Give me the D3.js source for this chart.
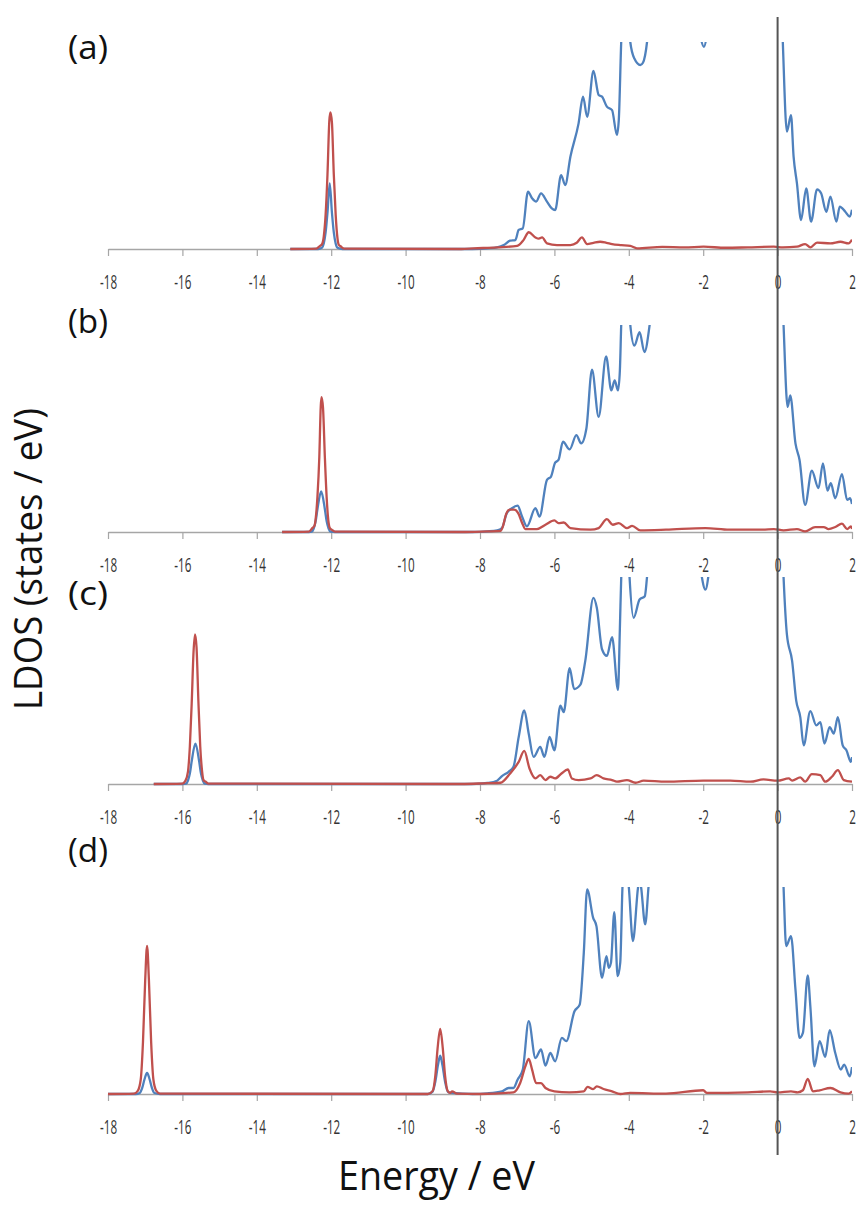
<!DOCTYPE html>
<html>
<head>
<meta charset="utf-8">
<script src="https://cdn.jsdelivr.net/npm/d3@7/dist/d3.min.js"></script>
<style>
  body { margin: 0; background: #fff; }
  svg { display: block; font-family: "Open Sans", "Noto Sans", sans-serif; }
</style>
</head>
<body>
<div id="chart"></div>
<script>
const W = 859, H = 1209;

// energy axis ticks (eV)
const tickValues = [-18, -16, -14, -12, -10, -8, -6, -4, -2, 0, 2];
const panelLabels = ["(a)", "(b)", "(c)", "(d)"];

// LDOS curves, [energy eV, states/eV (arbitrary units, axis top = 10)]
const blueA = [[-13.1,0],[-12.35,0],[-12.25,0.06],[-12.2,0.27],[-12.15,0.8],[-12.1,1.75],[-12.04,3.17],[-11.98,1.75],[-11.93,0.8],[-11.88,0.27],[-11.83,0.06],[-11.7,0],
  [-8.2,0],[-7.8,0.03],[-7.54,0.08],[-7.36,0.19],[-7.19,0.40],[-7.05,0.43],[-6.96,0.92],[-6.85,1.0],[-6.71,2.77],[-6.60,2.45],[-6.49,2.29],[-6.36,2.69],[-6.20,2.29],[-6.07,1.96],[-5.98,1.88],
  [-5.82,3.57],[-5.71,3.09],[-5.57,4.46],[-5.35,6.07],[-5.23,7.36],[-5.12,6.39],[-4.95,8.60],[-4.81,7.44],[-4.72,7.36],[-4.59,6.88],[-4.45,6.71],[-4.32,5.51],[-4.27,6.2],[-4.2,10.2],
  [-4.1,12.5],[-4.02,11.5],[-3.96,10.0],[-3.85,9.2],[-3.69,8.89],[-3.62,9.0],[-3.51,10.0],[-3.4,12.5],[-3.0,14.5],[-2.5,13],[-2.15,10.8],[-1.98,9.77],[-1.85,10.8],
  [-1.4,14],[-0.8,16],[-0.3,17],[0.05,15],[0.14,10],[0.25,5.67],[0.36,6.47],[0.43,4.46],[0.52,3.17],[0.63,1.40],[0.77,2.93],[0.90,1.32],[1.06,2.88],[1.17,2.69],
  [1.31,1.80],[1.42,2.53],[1.58,1.32],[1.67,2.05],[1.82,1.80],[1.94,1.56],[2.0,1.9]];
const redA = [[-13.1,0],[-12.4,0.02],[-12.3,0.15],[-12.25,0.22],[-12.2,0.6],[-12.15,1.66],[-12.1,3.6],[-12.05,6.2],[-12.02,6.6],[-11.98,6.1],[-11.93,3.6],[-11.88,1.66],[-11.83,0.5],[-11.8,0.22],[-11.74,0.12],[-11.65,0.02],
  [-8.5,0],[-8.17,0.03],[-7.54,0.08],[-7.0,0.15],[-6.83,0.43],[-6.69,0.81],[-6.51,0.56],[-6.42,0.5],[-6.33,0.56],[-6.2,0.27],[-5.93,0.19],[-5.57,0.19],[-5.4,0.3],[-5.26,0.56],[-5.12,0.24],
  [-4.95,0.3],[-4.77,0.35],[-4.6,0.3],[-4.45,0.24],[-4.2,0.19],[-3.96,0.15],[-3.78,0.03],[-3.1,0.1],[-2.5,0.08],[-1.99,0.11],[-1.4,0.06],[-0.8,0.08],[-0.1,0.11],[0.14,0.08],
  [0.52,0.11],[0.74,0.24],[0.88,0.08],[1.06,0.31],[1.42,0.27],[1.69,0.35],[1.91,0.27],[2.0,0.45]];

const blueB = [[-13.32,0],[-12.6,0],[-12.52,0.02],[-12.47,0.17],[-12.42,0.5],[-12.37,1.1],[-12.27,1.96],[-12.17,1.1],[-12.12,0.5],[-12.07,0.17],[-12.02,0.02],[-11.9,0],
  [-8.2,0],[-7.8,0.03],[-7.54,0.08],[-7.41,0.19],[-7.28,0.91],[-7.14,1.15],[-6.99,1.27],[-6.87,0.75],[-6.74,0.27],[-6.51,1.15],[-6.40,0.75],[-6.20,2.52],[-6.09,2.68],[-5.98,3.35],
  [-5.89,3.48],[-5.77,4.36],[-5.59,3.99],[-5.41,4.68],[-5.28,4.28],[-5.14,5.0],[-4.99,7.84],[-4.81,5.56],[-4.61,8.48],[-4.47,6.84],[-4.38,7.32],[-4.29,6.84],[-4.24,7.8],[-4.2,10.2],
  [-4.1,12.5],[-4.02,11.5],[-3.96,10.0],[-3.85,9.0],[-3.71,9.65],[-3.58,8.69],[-3.44,10.0],[-3.3,12.5],[-2.8,15],[-2.0,14],[-1.2,16],[-0.4,17],[0.06,15],[0.16,10],
  [0.27,6.04],[0.34,6.6],[0.48,4.28],[0.59,3.48],[0.74,1.31],[0.92,2.96],[1.10,2.12],[1.22,3.32],[1.34,2.0],[1.43,2.36],[1.55,1.63],[1.73,2.8],[1.87,1.55],[1.95,1.63],[2.0,1.35]];
const redB = [[-13.32,0],[-12.6,0.02],[-12.5,0.2],[-12.45,0.3],[-12.42,0.6],[-12.37,1.7],[-12.32,3.6],[-12.28,6.1],[-12.26,6.52],[-12.22,6.0],[-12.17,3.6],[-12.12,1.6],[-12.07,0.45],[-12.04,0.2],[-11.98,0.1],[-11.9,0.02],
  [-8.5,0],[-7.8,0.03],[-7.45,0.05],[-7.38,0.3],[-7.3,0.85],[-7.2,1.08],[-7.08,1.08],[-6.97,0.9],[-6.87,0.45],[-6.78,0.14],[-6.47,0.14],[-6.24,0.35],[-6.0,0.56],[-5.89,0.43],[-5.75,0.46],
  [-5.57,0.19],[-5.03,0.11],[-4.81,0.19],[-4.59,0.62],[-4.43,0.35],[-4.27,0.43],[-4.05,0.19],[-3.91,0.3],[-3.69,0.08],[-3.0,0.11],[-1.94,0.19],[-1.3,0.11],[-0.4,0.11],[-0.1,0.14],
  [0.16,0.08],[0.52,0.14],[0.74,0.03],[1.01,0.24],[1.24,0.24],[1.37,0.14],[1.55,0.24],[1.73,0.4],[1.87,0.14],[1.97,0.27],[2.0,0.15]];

const blueC = [[-16.77,0],[-16.0,0],[-15.9,0.02],[-15.85,0.17],[-15.8,0.5],[-15.75,1.1],[-15.65,1.95],[-15.55,1.1],[-15.5,0.5],[-15.45,0.17],[-15.4,0.02],[-15.3,0],
  [-8.2,0],[-7.8,0.05],[-7.54,0.16],[-7.41,0.38],[-7.23,0.59],[-7.1,0.83],[-6.96,2.27],[-6.81,3.55],[-6.69,2.43],[-6.56,1.31],[-6.38,1.79],[-6.27,1.31],[-6.13,2.27],[-6.0,1.63],
  [-5.84,3.79],[-5.75,3.47],[-5.59,5.6],[-5.47,4.59],[-5.30,4.8],[-5.17,5.95],[-4.95,8.99],[-4.86,8.51],[-4.72,6.51],[-4.59,6.19],[-4.45,7.1],[-4.29,4.54],[-4.24,7.5],[-4.2,10.2],
  [-4.1,12.5],[-4.02,11.5],[-3.98,10.0],[-3.87,8.03],[-3.71,8.91],[-3.57,9.07],[-3.51,10.0],[-3.4,12.5],[-3.0,14.5],[-2.5,13],[-2.12,10.8],[-1.94,9.39],[-1.8,10.8],
  [-1.4,14],[-0.8,16],[-0.3,17],[0.06,15],[0.16,10],[0.25,7.23],[0.39,5.95],[0.50,4.03],[0.61,3.23],[0.70,1.87],[0.88,3.52],[1.04,2.83],[1.15,2.99],[1.26,1.95],
  [1.40,2.75],[1.51,2.43],[1.62,3.23],[1.75,1.87],[1.85,1.63],[1.97,1.07],[2.0,1.3]];
const redC = [[-16.77,0],[-16.0,0.02],[-15.92,0.15],[-15.85,0.6],[-15.8,1.8],[-15.75,3.9],[-15.7,6.4],[-15.66,7.23],[-15.62,6.6],[-15.57,4.0],[-15.52,1.8],[-15.47,0.6],[-15.43,0.18],[-15.38,0.12],[-15.3,0.02],
  [-8.5,0],[-7.8,0.04],[-7.45,0.06],[-7.19,0.51],[-6.96,1.07],[-6.81,1.6],[-6.67,0.75],[-6.51,0.27],[-6.38,0.43],[-6.24,0.19],[-6.11,0.35],[-5.98,0.27],[-5.81,0.51],[-5.64,0.7],
  [-5.53,0.27],[-5.35,0.19],[-5.03,0.27],[-4.86,0.43],[-4.68,0.27],[-4.45,0.19],[-4.32,0.11],[-4.05,0.19],[-3.82,0.06],[-3.6,0.16],[-3.0,0.11],[-1.99,0.16],[-1.27,0.16],
  [-0.73,0.11],[-0.38,0.22],[0.0,0.16],[0.3,0.27],[0.39,0.16],[0.61,0.32],[0.74,0.11],[0.92,0.48],[1.15,0.43],[1.28,0.11],[1.46,0.35],[1.62,0.67],[1.78,0.19],[2.0,0.11]];

const blueD = [[-18,0],[-17.25,0],[-17.15,0.05],[-17.08,0.3],[-17.02,0.7],[-16.95,1.02],[-16.88,0.7],[-16.82,0.3],[-16.75,0.05],[-16.6,0],
  [-9.4,0],[-9.28,0.1],[-9.2,0.6],[-9.13,1.4],[-9.07,1.85],[-9.01,1.4],[-8.94,0.6],[-8.86,0.1],[-8.75,0.05],[-8.2,0],[-7.8,0.03],[-7.41,0.13],[-7.23,0.29],[-7.1,0.29],
  [-6.99,0.69],[-6.85,1.18],[-6.69,3.52],[-6.51,1.74],[-6.36,2.15],[-6.24,1.37],[-6.11,1.98],[-5.98,1.58],[-5.80,2.71],[-5.68,2.55],[-5.46,4.0],[-5.32,4.32],[-5.21,6.82],
  [-5.12,9.89],[-4.96,8.52],[-4.87,8.11],[-4.72,5.61],[-4.60,6.66],[-4.54,6.1],[-4.48,6.34],[-4.39,8.79],[-4.30,5.69],[-4.23,6.34],[-4.17,10.0],[-4.1,11.5],[-4.0,10.0],
  [-3.89,7.39],[-3.75,10.0],[-3.71,10.4],[-3.67,10.0],[-3.56,8.19],[-3.47,10.0],[-3.35,12.5],[-2.8,15],[-2.0,14],[-1.2,16],[-0.4,17],[0.06,15],[0.16,10],[0.23,7.15],
  [0.36,7.63],[0.48,5.05],[0.59,2.71],[0.68,2.95],[0.81,5.73],[0.88,4.24],[0.99,1.34],[1.13,2.55],[1.28,1.79],[1.40,3.08],[1.55,1.98],[1.70,1.18],[1.79,1.42],[1.94,0.85],[2.0,1.3]];
const redD = [[-18,0],[-17.3,0.02],[-17.2,0.15],[-17.12,0.7],[-17.06,2.5],[-17.0,5.5],[-16.95,7.15],[-16.9,5.5],[-16.84,2.5],[-16.78,0.7],[-16.7,0.15],[-16.6,0.02],
  [-9.4,0],[-9.27,0.15],[-9.2,0.9],[-9.14,2.2],[-9.07,3.15],[-9.0,2.2],[-8.94,0.9],[-8.87,0.15],[-8.8,0.05],[-8.75,0.13],[-8.62,0.02],[-8.0,0],[-7.1,0.08],[-6.92,0.53],
  [-6.78,1.34],[-6.69,1.69],[-6.60,1.18],[-6.49,0.53],[-6.36,0.53],[-6.24,0.29],[-6.0,0.13],[-5.6,0.08],[-5.21,0.13],[-5.11,0.34],[-4.96,0.24],[-4.86,0.37],[-4.68,0.24],
  [-4.45,0.13],[-4.23,0.0],[-3.96,0.05],[-3.0,0.02],[-2.0,0.18],[-1.9,0.05],[-0.8,0.08],[-0.2,0.13],[0.0,0.08],[0.36,0.13],[0.54,0.08],[0.68,0.18],[0.81,0.73],[0.95,0.13],
  [1.13,0.18],[1.42,0.29],[1.69,0.08],[1.91,0.02],[2.0,0.13]];

const panels = [
  {label: panelLabels[0], blue: blueA, red: redA, base: 249, labelY: 59},
  {label: panelLabels[1], blue: blueB, red: redB, base: 532, labelY: 333},
  {label: panelLabels[2], blue: blueC, red: redC, base: 784, labelY: 605},
  {label: panelLabels[3], blue: blueD, red: redD, base: 1094, labelY: 862}
];

const PLOT_H = 207;
const BLUE = "#4f81bd", RED = "#c0504d";

const svg = d3.select("#chart").append("svg")
  .attr("width", W)
  .attr("height", H);

const x = d3.scaleLinear().domain([-18, 2]).range([108, 852]);

panels.forEach((p, i) => {
  const y = d3.scaleLinear().domain([0, 10]).range([p.base, p.base - PLOT_H]);
  const g = svg.append("g");

  svg.append("clipPath").attr("id", "clip" + i)
    .append("rect")
    .attr("x", x(-18)).attr("y", p.base - PLOT_H)
    .attr("width", x(2) - x(-18)).attr("height", PLOT_H + 10);

  // axis
  const axis = d3.axisBottom(x).tickValues(tickValues).tickSize(7).tickSizeOuter(0).tickFormat(d => String(d));
  const ax = g.append("g").attr("transform", `translate(0,${p.base})`).call(axis);
  ax.select(".domain").attr("stroke", "#a6a6a6").attr("stroke-width", 1.5);
  ax.selectAll(".tick line").attr("stroke", "#a6a6a6").attr("stroke-width", 1.2);
  ax.selectAll(".tick text")
    .attr("y", null).attr("dy", null)
    .attr("transform", "translate(0,40) scale(0.78,1.35)")
    .attr("fill", "#333")
    .style("font-family", "'Open Sans', sans-serif")
    .style("font-size", "15px");

  const line = d3.line().x(d => x(d[0])).y(d => y(d[1])).curve(d3.curveMonotoneX);
  const lines = g.append("g").attr("clip-path", `url(#clip${i})`);
  lines.append("path").datum(p.blue).attr("d", line)
    .attr("fill", "none").attr("stroke", BLUE).attr("stroke-width", 2.3).attr("stroke-linejoin", "round");
  lines.append("path").datum(p.red).attr("d", line)
    .attr("fill", "none").attr("stroke", RED).attr("stroke-width", 2.3).attr("stroke-linejoin", "round");

  g.append("text")
    .attr("x", 68).attr("y", p.labelY)
    .attr("textLength", 40).attr("lengthAdjust", "spacingAndGlyphs")
    .style("font-size", "32px").attr("fill", "#111")
    .text(p.label);
});

// Fermi level
svg.append("line")
  .attr("x1", x(0)).attr("x2", x(0))
  .attr("y1", 17).attr("y2", 1155)
  .attr("stroke", "#555").attr("stroke-width", 2);

// axis titles
svg.append("text")
  .attr("transform", "translate(42,559) rotate(-90)")
  .attr("text-anchor", "middle")
  .attr("textLength", 302).attr("lengthAdjust", "spacingAndGlyphs")
  .style("font-size", "38px").attr("fill", "#111")
  .text("LDOS (states / eV)");

svg.append("text")
  .attr("x", 436.5).attr("y", 1190)
  .attr("text-anchor", "middle")
  .attr("textLength", 197).attr("lengthAdjust", "spacingAndGlyphs")
  .style("font-size", "40px").attr("fill", "#111")
  .text("Energy / eV");
</script>
</body>
</html>
